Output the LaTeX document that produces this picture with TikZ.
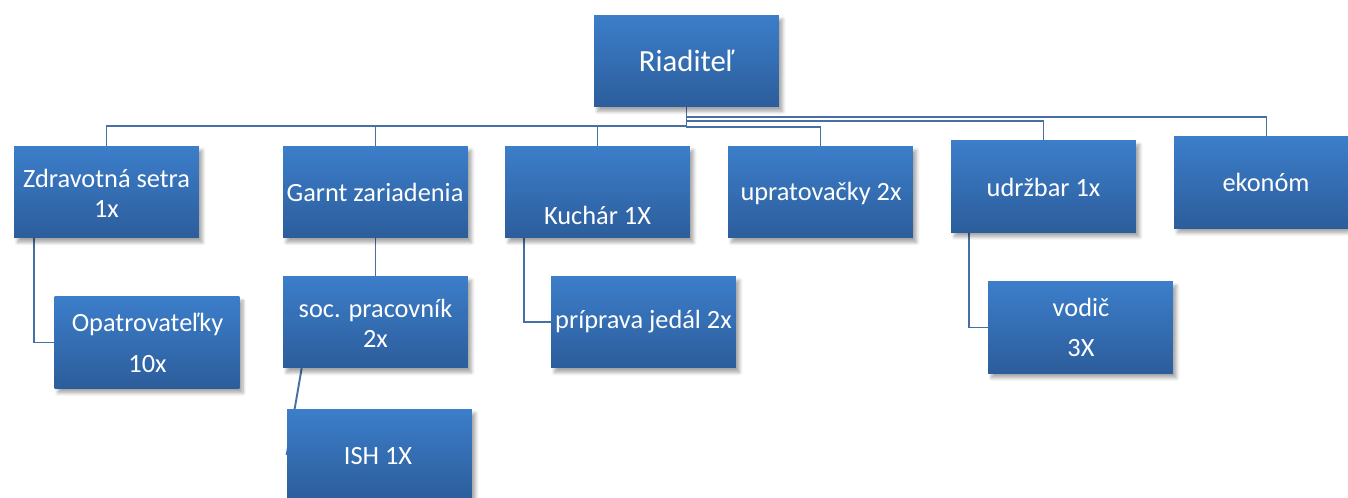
\documentclass[tikz,border=0pt]{standalone}
\usepackage{fontspec}
\setmainfont{Carlito}
\usetikzlibrary{shadows.blur,backgrounds}
\definecolor{boxtop}{RGB}{60,126,202}
\definecolor{boxbot}{RGB}{44,93,155}
\definecolor{linkblue}{RGB}{70,111,164}
\tikzset{
	orgbox/.style={rectangle, minimum width=3.7cm, minimum height=1.84cm,
		top color=boxtop, bottom color=boxbot,
		blur shadow={shadow xshift=2pt, shadow yshift=-2.5pt, shadow opacity=35, shadow blur steps=6}},
	orgtext/.style={text=white, font=\fontsize{15}{17.2}\selectfont, align=center},
	link/.style={draw=linkblue, line width=1.1pt},
}
\begin{document}
\begin{tikzpicture}[x=0.02cm, y=-0.02cm]
		\useasboundingbox (0,0) rectangle (1348,497);
		
		\node[orgbox] (riad) at (686.5, 61) {};
		\node[orgtext, font=\fontsize{17.5}{21}\selectfont] (riad-t) at (686.5, 61) {Riaditeľ};
		
		\node[orgbox] (zdrav) at (106.5, 192) {};
		\node[orgtext] (zdrav-t) at (106.5, 193) {Zdravotná setra\\1x};
		\node[orgbox] (garnt) at (375.5, 192) {};
		\node[orgtext] (garnt-t) at (375, 192) {Garnt zariadenia};
		\node[orgbox] (kuchar) at (597.5, 192) {};
		\node[orgtext] (kuchar-t) at (597.5, 215) {Kuchár 1X};
		\node[orgbox] (uprat) at (820.5, 192) {};
		\node[orgtext] (uprat-t) at (821, 193) {upratovačky 2x};
		\node[orgbox] (udrz) at (1043.5, 186.5) {};
		\node[orgtext] (udrz-t) at (1043.5, 187) {udržbar 1x};
		\node[orgbox] (ekonom) at (1266.5, 182.5) {};
		\node[orgtext] (ekonom-t) at (1266, 182) {ekonóm};
		
		\node[orgbox] (opat) at (147, 342.5) {};
		\node[orgtext] (opat-t) at (147.5, 343) {Opatrovateľky\\[5.7pt]10x};
		\node[orgbox] (soc) at (375.5, 322) {};
		\node[orgtext] (soc-t) at (375.5, 323.5) {soc. pracovník\\2x};
		\node[orgbox] (ish) at (379.5, 455) {};
		\node[orgtext] (ish-t) at (378, 456) {ISH 1X};
		\node[orgbox] (priprava) at (643.5, 322) {};
		\node[orgtext] (priprava-t) at (643.5, 322) {príprava jedál 2x};
		\node[orgbox] (vodic) at (1080.5, 327.5) {};
		\node[orgtext] (vodic-t) at (1081, 327.5) {vodič\\[6pt]3X};
		
		\begin{scope}[on background layer]
			\draw[link] (riad.south) -- ++(0,19) -| (zdrav.north);
			\draw[link] (riad.south) -- ++(0,19) -| (garnt.north);
			\draw[link] (riad.south) -- ++(0,19) -| (kuchar.north);
			\draw[link] (riad.south) -- ++(0,20) -| (uprat.north);
			\draw[link] (riad.south) -- ++(0,14) -| (udrz.north);
			\draw[link] (riad.south) -- ++(0,10) -| (ekonom.north);
			\draw[link] (zdrav.south west) ++(20,0) |- (opat.west);
			\draw[link] (garnt.south) -- (soc.north);
			\draw[link] (soc.south west) ++(19,0) -- (ish.west);
			\draw[link] (kuchar.south west) ++(19,0) |- (priprava.west);
			\draw[link] (udrz.south west) ++(18,0) |- (vodic.west);
		\end{scope}
	\end{tikzpicture}
\end{document}
